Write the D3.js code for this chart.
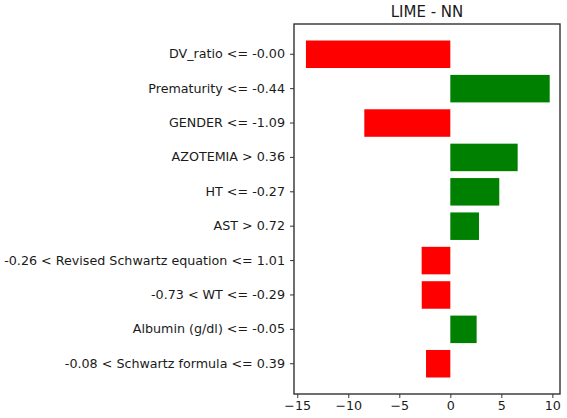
<!DOCTYPE html>
<html>
<head>
<meta charset="utf-8">
<script src="https://cdn.jsdelivr.net/npm/d3@7"></script>
<style>
  body { margin: 0; background: #fff; }
  svg { display: block; font-family: "DejaVu Sans", sans-serif; }
</style>
</head>
<body>
<div id="chart"></div>
<script>
// feature conditions, top to bottom
const features = [
  "DV_ratio <= -0.00",
  "Prematurity <= -0.44",
  "GENDER <= -1.09",
  "AZOTEMIA > 0.36",
  "HT <= -0.27",
  "AST > 0.72",
  "-0.26 < Revised Schwartz equation <= 1.01",
  "-0.73 < WT <= -0.29",
  "Albumin (g/dl) <= -0.05",
  "-0.08 < Schwartz formula <= 0.39"
];
const weights = [-14.15, 9.74, -8.43, 6.6, 4.8, 2.81, -2.81, -2.8, 2.58, -2.38];
const xTicks = [-15, -10, -5, 0, 5, 10];
const title = "LIME - NN";

const width = 567, height = 418;
const margin = {top: 24, right: 7, bottom: 24, left: 294};

const svg = d3.select("#chart").append("svg")
    .attr("width", width)
    .attr("height", height);

const x = d3.scaleLinear()
    .domain([-15.32, 10.75])
    .range([margin.left, width - margin.right]);

const y = d3.scaleBand()
    .domain(features)
    .range([margin.top, height - margin.bottom])
    .paddingInner(0.2)
    .paddingOuter(0.48);

svg.append("g")
    .selectAll("rect")
    .data(features)
    .join("rect")
    .attr("x", (d, i) => x(Math.min(0, weights[i])))
    .attr("y", d => y(d))
    .attr("width", (d, i) => Math.abs(x(weights[i]) - x(0)))
    .attr("height", y.bandwidth())
    .attr("fill", (d, i) => weights[i] > 0 ? "#008000" : "#ff0000");

// axes
const xAxis = svg.append("g")
    .attr("transform", `translate(0,${height - margin.bottom})`)
    .call(d3.axisBottom(x).tickValues(xTicks).tickSize(4).tickPadding(3)
        .tickFormat(d => d < 0 ? "\u2212" + Math.abs(d) : d));

const yAxis = svg.append("g")
    .attr("transform", `translate(${margin.left},0)`)
    .call(d3.axisLeft(y).tickSize(4).tickPadding(5));

[xAxis, yAxis].forEach(g => {
    g.select(".domain").remove();
    g.selectAll("line").attr("stroke", "#333").attr("stroke-width", 1);
    g.selectAll("text").attr("fill", "#1a1a1a").attr("font-size", 12.7)
        .attr("font-family", "DejaVu Sans, sans-serif");
});

// frame
svg.append("rect")
    .attr("x", margin.left)
    .attr("y", margin.top)
    .attr("width", width - margin.left - margin.right)
    .attr("height", height - margin.top - margin.bottom)
    .attr("fill", "none")
    .attr("stroke", "#333")
    .attr("stroke-width", 1.4);

svg.append("text")
    .attr("x", (margin.left + width - margin.right) / 2)
    .attr("y", 17)
    .attr("text-anchor", "middle")
    .attr("fill", "#1a1a1a")
    .attr("font-size", 15)
    .text(title);
</script>
</body>
</html>
